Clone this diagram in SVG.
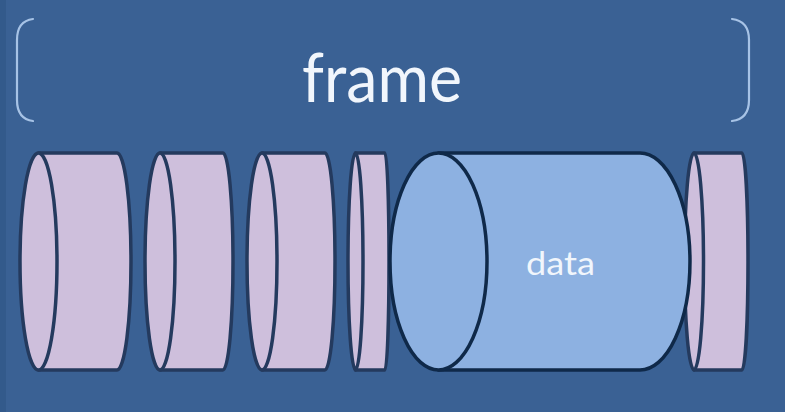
<svg xmlns="http://www.w3.org/2000/svg" width="785" height="412" viewBox="0 0 785 412">
  <style>
    .bracket { fill: none; stroke: #A7C3E6; stroke-width: 2.2; stroke-linecap: round; }
    .disk { fill: #CEBFDC; stroke: #243A5E; stroke-width: 3.5; stroke-linejoin: round; }
    .data { fill: #8DB1E1; stroke: #0F2949; stroke-width: 3.5; stroke-linejoin: round; }
    .label { font-family: "Lato", "Liberation Sans", sans-serif; fill: #F1F6FC; text-anchor: middle; }
  </style>

  <!-- background -->
  <rect x="0" y="0" width="785" height="412" fill="#3A6194"/>
  <rect x="0" y="0" width="6" height="412" fill="#335A8B"/>

  <!-- frame brace -->
  <g id="frame">
    <path class="bracket" d="M33,19 Q17,21 17,40 L17,100 Q17,119 33,121"/>
    <path class="bracket" d="M732,19 Q749,21 749,40 L749,100 Q749,119 732,121"/>
    <text class="label" x="382" y="102" font-size="68" textLength="160" lengthAdjust="spacingAndGlyphs">frame</text>
  </g>

  <!-- stacked segments -->
  <g id="disk1">
    <path class="disk" d="M38.5,153 L117,153 A14,108.5 0 0 1 117,370 L38.5,370 Z"/>
    <ellipse class="disk" cx="38.5" cy="261.5" rx="18.5" ry="108.5"/>
  </g>
  <g id="disk2">
    <path class="disk" d="M160,153 L223,153 A10,108.5 0 0 1 223,370 L160,370 Z"/>
    <ellipse class="disk" cx="160" cy="261.5" rx="15" ry="108.5"/>
  </g>
  <g id="disk3">
    <path class="disk" d="M262,153 L325,153 A10,108.5 0 0 1 325,370 L262,370 Z"/>
    <ellipse class="disk" cx="262" cy="261.5" rx="15" ry="108.5"/>
  </g>
  <g id="disk4">
    <path class="disk" d="M355.5,153 L385,153 A4,108.5 0 0 1 385,370 L355.5,370 Z"/>
    <ellipse class="disk" cx="355.5" cy="261.5" rx="7.5" ry="108.5"/>
  </g>
  <g id="disk6">
    <path class="disk" d="M694,153 L742,153 A6,108.5 0 0 1 742,370 L694,370 Z"/>
    <ellipse class="disk" cx="694" cy="261.5" rx="9.5" ry="108.5"/>
  </g>

  <!-- data segment -->
  <g id="data">
    <path class="data" d="M438.5,153 L640,153 A50,108.5 0 0 1 640,370 L438.5,370 Z"/>
    <ellipse class="data" cx="438.5" cy="261.5" rx="48.5" ry="108.5"/>
    <text class="label" x="560.5" y="275" font-size="32" textLength="69" lengthAdjust="spacingAndGlyphs">data</text>
  </g>
</svg>
